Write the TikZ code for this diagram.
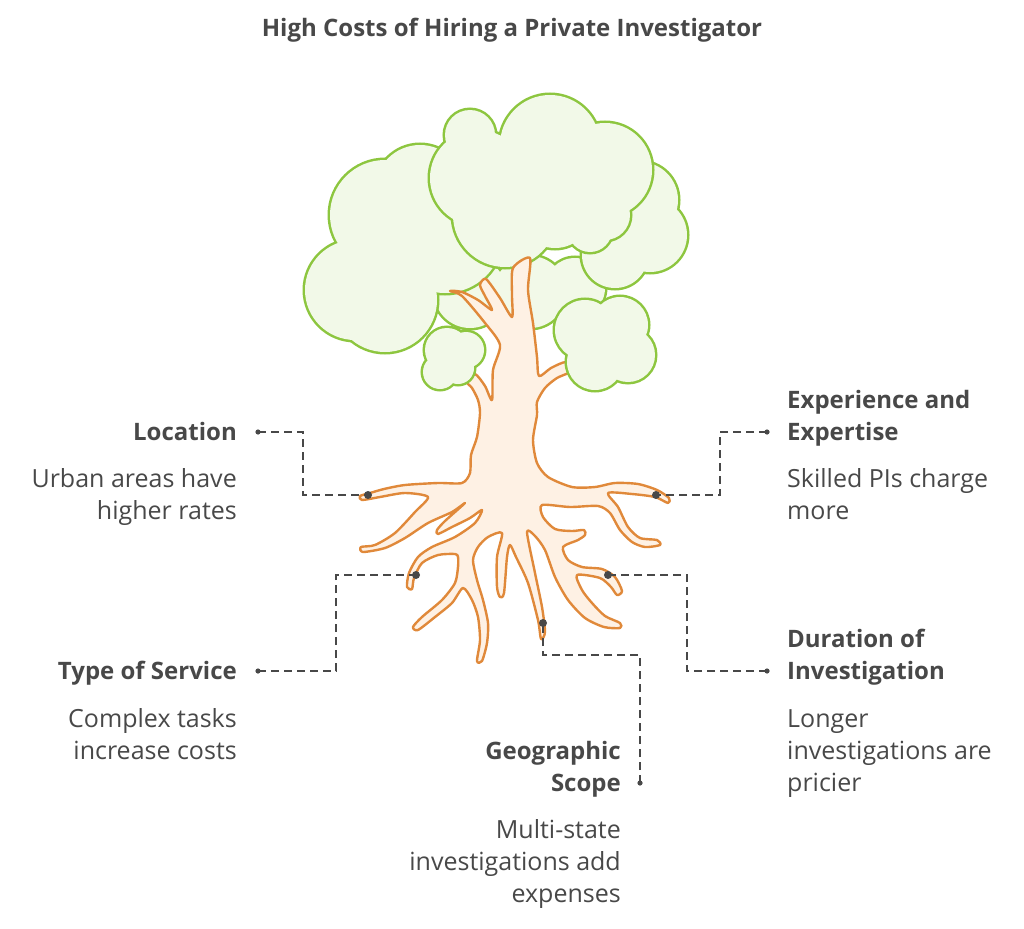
\documentclass[tikz,border=0pt]{standalone}
\usepackage{fontspec}
\setmainfont{Open Sans}
\usetikzlibrary{positioning}

\definecolor{leafline}{RGB}{141,198,63}
\definecolor{leaffill}{RGB}{242,249,232}
\definecolor{woodline}{RGB}{224,137,58}
\definecolor{woodfill}{RGB}{254,241,228}
\definecolor{ink}{RGB}{72,72,72}

% one crown: outline of a union of circles
\newcommand{\crown}[1]{%
	\foreach \cx/\cy/\rad in {#1} {\draw[leaf] (\cx,\cy) circle (\rad);}%
	\foreach \cx/\cy/\rad in {#1} {\fill[leafin] (\cx,\cy) circle (\rad);}}

\begin{document}
\begin{tikzpicture}[x=1pt,y=-1pt,>=latex]
	\tikzset{leaf/.style = {draw=leafline, line width=5pt}}
	\tikzset{leafin/.style = {fill=leaffill}}
	\tikzset{wood/.style = {draw=woodline, fill=woodfill, line width=2.4pt, line join=round}}
	\tikzset{link/.style = {draw=ink, line width=2.3pt, dash pattern=on 8pt off 5pt}}
	\tikzset{title/.style = {font=\bfseries\fontsize{24}{30}\selectfont, text=ink, inner sep=0pt}}
	\tikzset{head/.style = {font=\bfseries\fontsize{24}{32}\selectfont, text=ink, inner sep=0pt}}
	\tikzset{desc/.style = {font=\fontsize{25}{32}\selectfont, text=ink, inner sep=0pt}}
	\useasboundingbox (0,0) rectangle (1024,928);

	\node[title, anchor=base] (ttl) at (512,37) {High Costs of Hiring a Private Investigator};

	% crowns
	\crown{470/292/36, 530/292/36, 500/300/25, 575/288/30}
	\crown{385/215/55, 355/290/50, 385/300/52, 445/235/58, 420/190/45}
	\crown{640/200/38, 650/235/37, 615/255/33}
	\crown{478/178/48, 550/145/50, 605/170/47, 505/215/52, 555/210/38, 605/215/25, 590/230/22, 470/135/25}

	% trunk and roots
	\draw[wood] plot[smooth cycle, tension=0.45] coordinates {
		(513,268) (530,258) (528,290) (533,323) (537,357) (539,376)
		(551,368) (566,362) (574,370) (557,378) (545,388) (537,402)
		(537,415) (533,440) (537,463) (548,477) (572,487) (595,487) (615,483) (638,484) (657,490) (669,498)
		(668,503) (655,497) (632,494) (608,493)
		(618,507) (628,527) (640,538) (657,540) (660,545) (645,547) (632,542) (620,530) (610,513) (598,506) (570,507) (542,505)
		(543,517) (555,529) (572,531) (584,530) (585,535) (578,540) (563,547)
		(568,560) (582,567) (602,569) (615,577) (622,591) (617,595) (611,587) (600,578) (577,575)
		(582,590) (592,603) (605,616) (620,623) (620,628) (604,627) (585,618) (568,600) (555,577) (545,550) (535,536) (527,532)
		(535,573) (542,607) (545,632) (541,639) (538,620) (528,583) (516,557) (510,545)
		(507,557) (504,593) (500,597) (497,587) (497,557) (502,533)
		(488,537) (478,547) (473,560) (477,580) (483,600) (488,623) (487,643) (482,661) (477,661) (480,640) (478,617) (472,600) (463,588)
		(452,603) (435,617) (418,630) (413,627) (422,617) (442,600) (455,583) (458,567) (458,557)
		(455,554) (438,555) (422,563) (414,578) (412,589) (407,587) (409,573) (418,557) (432,547) (455,537) (475,523) (482,510)
		(470,518) (452,527) (438,534) (437,530) (445,521) (465,503)
		(452,512) (428,523) (405,538) (385,548) (363,552) (361,547) (375,545) (395,533) (415,512) (428,497)
		(405,493) (380,497) (362,500) (360,496) (370,493) (384,489) (405,485) (438,483) (462,483)
		(470,473) (471,455) (477,437) (480,413) (478,400)
		(472,388) (466,381) (475,374) (485,386) (492,400)
		(493,370) (500,345)
		(485,323) (462,296) (450,291) (462,292) (478,300) (492,310)
		(485,296) (480,285) (486,279) (500,298) (512,317)
		(512,295)};

	% front crowns
	\crown{585/330/30, 620/325/28, 628/355/27, 595/362/28, 605/345/35}
	\crown{447/350/22, 466/350/18, 440/372/17, 458/368/16, 453/358/22}

	% labels (base = last line)
	\node[head, align=right, anchor=base east] (loc) at (237,440) {Location};
	\node[desc, align=right, anchor=base east] (locd) at (237,519) {Urban areas have\\higher rates};
	\node[head, align=left, anchor=base west] (exp) at (787,440) {Experience and\\Expertise};
	\node[desc, align=left, anchor=base west] (expd) at (787,519) {Skilled PIs charge\\more};
	\node[head, align=right, anchor=base east] (typ) at (237,679) {Type of Service};
	\node[desc, align=right, anchor=base east] (typd) at (237,759) {Complex tasks\\increase costs};
	\node[head, align=left, anchor=base west] (dur) at (787,679) {Duration of\\Investigation};
	\node[desc, align=left, anchor=base west] (durd) at (787,791) {Longer\\investigations are\\pricier};
	\node[head, align=right, anchor=base east] (geo) at (621,791) {Geographic\\Scope};
	\node[desc, align=right, anchor=base east] (geod) at (621,902) {Multi-state\\investigations add\\expenses};

	% connectors
	\coordinate (locdot) at (258,432);
	\coordinate (locend) at (368,495);
	\coordinate (expdot) at (767,432);
	\coordinate (expend) at (656,495);
	\coordinate (typdot) at (258,671);
	\coordinate (typend) at (416,575);
	\coordinate (durdot) at (767,671);
	\coordinate (durend) at (608,575);
	\coordinate (geodot) at (640,783);
	\coordinate (geoend) at (543,623);
	\draw[link] (locdot) -- ++(45,0) |- (locend);
	\draw[link] (expdot) -- ++(-47,0) |- (expend);
	\draw[link] (typdot) -- ++(78,0) |- (typend);
	\draw[link] (durdot) -- ++(-80,0) |- (durend);
	\draw[link] (geodot) -- ++(0,-128) -| (geoend);
	\foreach \p in {locdot,expdot,typdot,durdot,geodot} \fill[ink] (\p) circle (2.6);
	\foreach \p in {locend,expend,typend,durend,geoend} \fill[ink] (\p) circle (4);
\end{tikzpicture}
\end{document}
